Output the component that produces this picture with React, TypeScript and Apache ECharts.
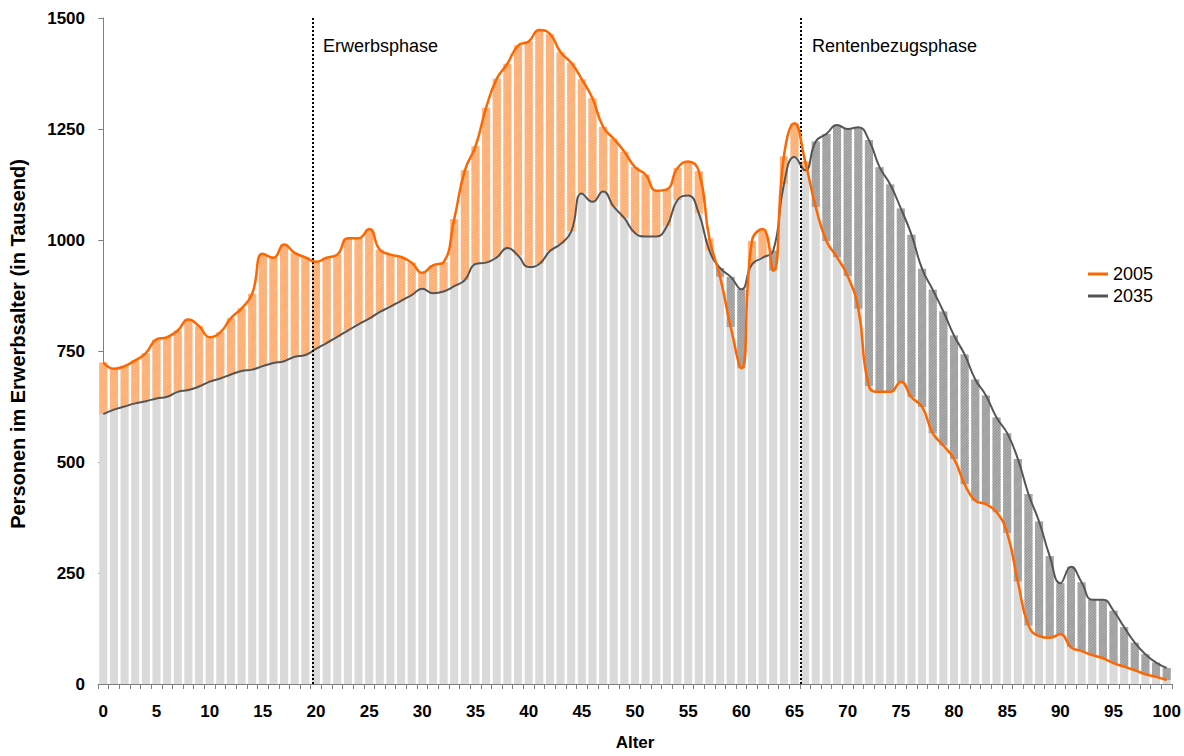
import React, { useEffect, useRef } from "react";
import * as echarts from "echarts";

const ages: string[] = Array.from({ length: 101 }, (_, i) => String(i));

const pop2005: number[] = [
  724, 710, 716, 729, 745, 776, 781, 796, 821, 806,
  781, 792, 824, 846, 879, 969, 960, 990, 971, 961,
  951, 960, 967, 1004, 1004, 1025, 978, 967, 962, 949,
  926, 943, 950, 1047, 1157, 1211, 1298, 1363, 1397, 1438,
  1447, 1473, 1464, 1423, 1399, 1362, 1319, 1255, 1228, 1199,
  1164, 1147, 1111, 1114, 1162, 1177, 1155, 1003, 917, 804,
  711, 998, 1025, 931, 1188, 1263, 1177, 1074, 998, 961,
  919, 845, 671, 658, 658, 681, 646, 624, 565, 537,
  507, 450, 413, 405, 387, 340, 231, 132, 108, 104,
  112, 83, 74, 65, 58, 47, 39, 31, 22, 16,
  9,
];

const pop2035: number[] = [
  608, 618, 625, 632, 637, 643, 647, 658, 662, 670,
  681, 688, 697, 705, 708, 716, 723, 727, 737, 741,
  755, 768, 782, 796, 810, 823, 838, 850, 863, 876,
  890, 880, 884, 896, 910, 946, 949, 961, 982, 965,
  939, 946, 975, 991, 1019, 1105, 1086, 1109, 1075, 1049,
  1016, 1008, 1008, 1031, 1090, 1100, 1060, 976, 937, 917,
  889, 945, 960, 976, 1125, 1187, 1157, 1222, 1239, 1259,
  1250, 1254, 1225, 1164, 1125, 1071, 1012, 935, 888, 839,
  785, 742, 686, 650, 600, 565, 507, 428, 366, 288,
  227, 264, 229, 190, 190, 165, 128, 93, 67, 48,
  36,
];

const phaseBounds: number[] = [19.7, 65.6];
const phaseLabels: string[] = ["Erwerbsphase", "Rentenbezugsphase"];
const yTicks = { min: 0, max: 1500, interval: 250 };
const yAxisTitle = "Personen im Erwerbsalter (in Tausend)";
const xAxisTitle = "Alter";

const FONT = 'Arial, "Liberation Sans", Helvetica, sans-serif';

export default function App() {
  const ref = useRef<HTMLDivElement>(null);

  useEffect(() => {
    if (!ref.current) return;
    const chart = echarts.init(ref.current, undefined, {
      renderer: "svg",
      width: 1184,
      height: 756,
    });

    const base = pop2005.map((v, i) => Math.min(v, pop2035[i]));
    const excess2005 = pop2005.map((v, i) => Math.max(0, v - pop2035[i]));
    const excess2035 = pop2035.map((v, i) => Math.max(0, v - pop2005[i]));

    const option: any = {
      animation: false,
      backgroundColor: "#ffffff",
      textStyle: { fontFamily: FONT },
      grid: { left: 98, right: 12, top: 18, bottom: 66, containLabel: false },
      legend: {
        orient: "vertical",
        left: 1083,
        top: 260,
        itemWidth: 20,
        itemHeight: 3,
        itemGap: 4,
        icon: "rect",
        data: ["2005", "2035"],
        textStyle: { fontSize: 18, color: "#000", fontFamily: FONT },
      },
      xAxis: [
        {
          type: "category",
          data: ages,
          boundaryGap: true,
          name: xAxisTitle,
          nameLocation: "middle",
          nameGap: 50,
          nameTextStyle: { fontSize: 17, fontWeight: "bold", color: "#000", fontFamily: FONT },
          axisLine: { lineStyle: { color: "#808080", width: 1 } },
          axisTick: { show: true, interval: 0, length: 5, lineStyle: { color: "#808080" } },
          axisLabel: {
            interval: 4,
            fontSize: 17,
            fontWeight: "bold",
            color: "#000",
            margin: 19,
            fontFamily: FONT,
          },
          splitLine: { show: false },
        },
        {
          type: "value",
          min: -0.5,
          max: 100.5,
          show: false,
        },
      ],
      yAxis: {
        type: "value",
        min: yTicks.min,
        max: yTicks.max,
        interval: yTicks.interval,
        axisLine: { show: true, lineStyle: { color: "#808080", width: 1 } },
        axisTick: { show: true, length: 5, lineStyle: { color: "#808080" } },
        axisLabel: {
          fontSize: 17,
          fontWeight: "bold",
          color: "#000",
          margin: 13,
          fontFamily: FONT,
          formatter: (v: number) => String(v),
        },
        splitLine: { show: false },
      },
      series: [
        {
          name: "base",
          type: "bar",
          stack: "pop",
          data: base,
          barWidth: "76%",
          itemStyle: { color: "#DADADA" },
          z: 1,
        },
        {
          name: "excess2005",
          type: "bar",
          stack: "pop",
          data: excess2005,
          barWidth: "76%",
          itemStyle: {
            color: "#FFC494",
            decal: {
              symbol: "rect",
              symbolSize: 1,
              color: "#FFA262",
              dashArrayX: [1, 0],
              dashArrayY: [1, 1],
              rotation: -Math.PI / 4,
            },
          },
          z: 1,
        },
        {
          name: "excess2035",
          type: "bar",
          stack: "pop",
          data: excess2035,
          barWidth: "76%",
          itemStyle: {
            color: "#B4B4B4",
            decal: {
              symbol: "rect",
              symbolSize: 1,
              color: "#949494",
              dashArrayX: [1, 0],
              dashArrayY: [1, 1],
              rotation: -Math.PI / 4,
            },
          },
          z: 1,
        },
        {
          name: "2005",
          type: "line",
          data: pop2005,
          smooth: true,
          showSymbol: false,
          symbol: "none",
          lineStyle: { color: "#FF6600", width: 2.5 },
          itemStyle: { color: "#FF6600" },
          z: 5,
        },
        {
          name: "2035",
          type: "line",
          data: pop2035,
          smooth: true,
          showSymbol: false,
          symbol: "none",
          lineStyle: { color: "#555555", width: 2 },
          itemStyle: { color: "#555555" },
          z: 4,
        },
        {
          name: "phases",
          type: "line",
          xAxisIndex: 1,
          data: [],
          markLine: {
            silent: true,
            symbol: "none",
            label: { show: false },
            lineStyle: { color: "#000", type: [2, 2], width: 2 },
            data: phaseBounds.map((b) => ({ xAxis: b })),
          },
          z: 6,
        },
      ],
      graphic: [
        {
          type: "text",
          left: 323,
          top: 37,
          style: { text: phaseLabels[0], fontSize: 18, fill: "#000", fontFamily: FONT },
        },
        {
          type: "text",
          left: 812,
          top: 37,
          style: { text: phaseLabels[1], fontSize: 18, fill: "#000", fontFamily: FONT },
        },
        {
          type: "text",
          x: 18,
          y: 344,
          rotation: Math.PI / 2,
          style: {
            text: yAxisTitle,
            fontSize: 20,
            fontWeight: "bold",
            fill: "#000",
            fontFamily: FONT,
            align: "center",
            verticalAlign: "middle",
          },
        },
      ],
    };

    chart.setOption(option);
    return () => chart.dispose();
  }, []);

  return (
    <div
      ref={ref}
      style={{ position: "fixed", left: 0, top: 0, width: 1184, height: 756, background: "#fff" }}
    />
  );
}
